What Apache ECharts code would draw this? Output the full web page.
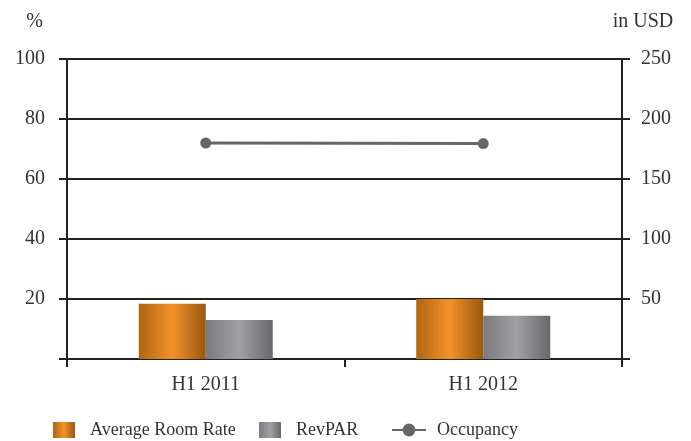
<!DOCTYPE html>
<html>
<head>
<meta charset="utf-8">
<script src="https://cdn.jsdelivr.net/npm/echarts@6/dist/echarts.min.js"></script>
<style>
  html, body { margin: 0; padding: 0; background: #fff; }
  #chart { width: 691px; height: 441px; }
</style>
</head>
<body>
<div id="chart"></div>
<script>
  const periods = ['H1 2011', 'H1 2012'];
  const avgRoomRate = [46, 50];    // in USD
  const revPar = [32.5, 36];       // in USD
  const occupancy = [72, 71.8];    // %

  const font = 'Liberation Serif';
  const ink = '#222';
  const textCol = '#333';

  function barGradient(left, mid, right) {
    return new echarts.graphic.LinearGradient(0, 0, 1, 0, [
      { offset: 0, color: left },
      { offset: 0.5, color: mid },
      { offset: 1, color: right }
    ]);
  }

  const orange = barGradient('#b06514', '#f3922a', '#9a570f');
  const grey = barGradient('#7b7b7f', '#a1a1a5', '#68686c');

  const hideZero = v => (v === 0 ? '' : v);
  const legendText = { fontFamily: font, fontSize: 18, color: textCol, padding: [3, 0, 0, 10] };

  const option = {
    animation: false,
    textStyle: { fontFamily: font, color: textCol },
    grid: { left: 67, right: 69, top: 59, bottom: 82 },
    legend: [
      {
        data: [{ name: 'Average Room Rate', icon: 'rect' }],
        left: 53, top: 421, padding: 0,
        itemWidth: 22, itemHeight: 16,
        textStyle: legendText
      },
      {
        data: [{ name: 'RevPAR', icon: 'rect' }],
        left: 259, top: 421, padding: 0,
        itemWidth: 22, itemHeight: 16,
        textStyle: legendText
      },
      {
        data: ['Occupancy'],
        left: 391, top: 421, padding: 0,
        itemWidth: 34, itemHeight: 16,
        textStyle: Object.assign({}, legendText, { padding: [3, 0, 0, 6] })
      }
    ],
    xAxis: {
      type: 'category',
      data: periods,
      boundaryGap: true,
      axisLine: { lineStyle: { color: ink, width: 2 } },
      axisTick: { show: true, length: 8, lineStyle: { color: ink, width: 2 } },
      axisLabel: { fontFamily: font, fontSize: 20, color: textCol, margin: 16 }
    },
    yAxis: [
      {
        type: 'value',
        min: 0, max: 100, interval: 20,
        name: '%',
        nameLocation: 'end',
        nameGap: 27,
        nameTextStyle: { fontFamily: font, fontSize: 20, color: textCol, align: 'right', padding: [0, 24, 0, 0] },
        axisLine: { show: true, lineStyle: { color: ink, width: 2 } },
        axisTick: { show: true, length: 8, lineStyle: { color: ink, width: 2 } },
        axisLabel: { fontFamily: font, fontSize: 20, color: textCol, margin: 22, formatter: hideZero },
        splitLine: { show: true, lineStyle: { color: ink, width: 2 } }
      },
      {
        type: 'value',
        min: 0, max: 250, interval: 50,
        name: 'in USD',
        nameLocation: 'end',
        nameGap: 27,
        nameTextStyle: { fontFamily: font, fontSize: 20, color: textCol, align: 'center', padding: [0, 0, 0, 42] },
        position: 'right',
        axisLine: { show: true, lineStyle: { color: ink, width: 2 } },
        axisTick: { show: true, length: 8, lineStyle: { color: ink, width: 2 } },
        axisLabel: { fontFamily: font, fontSize: 20, color: textCol, margin: 19, formatter: hideZero },
        splitLine: { show: false }
      }
    ],
    series: [
      {
        name: 'Average Room Rate',
        type: 'bar',
        yAxisIndex: 1,
        data: avgRoomRate,
        barWidth: 67,
        barGap: '0%',
        itemStyle: { color: orange }
      },
      {
        name: 'RevPAR',
        type: 'bar',
        yAxisIndex: 1,
        data: revPar,
        barWidth: 67,
        barGap: '0%',
        itemStyle: { color: grey }
      },
      {
        name: 'Occupancy',
        type: 'line',
        yAxisIndex: 0,
        data: occupancy,
        symbol: 'circle',
        symbolSize: 11,
        lineStyle: { color: '#666', width: 3 },
        itemStyle: { color: '#666' }
      }
    ]
  };

  const chart = echarts.init(document.getElementById('chart'));
  chart.setOption(option);
</script>
</body>
</html>
